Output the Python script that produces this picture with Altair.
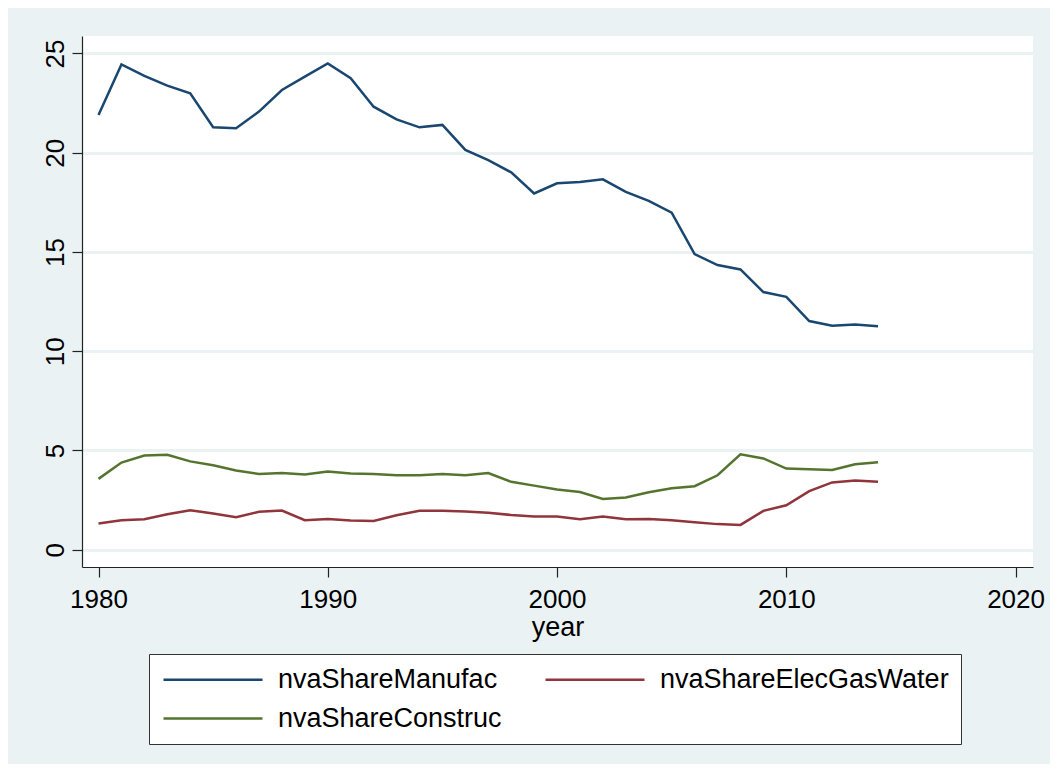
import altair as alt
import pandas as pd

years = list(range(1980, 2015))

manufac = [21.90, 24.45, 23.87, 23.38, 22.99, 21.28, 21.23, 22.07, 23.16, 23.83,
           24.50, 23.75, 22.32, 21.68, 21.28, 21.40, 20.14, 19.63, 19.01, 17.95,
           18.46, 18.52, 18.66, 18.03, 17.57, 16.98, 14.89, 14.34, 14.12, 12.98,
           12.74, 11.52, 11.28, 11.35, 11.26]

elec = [1.32, 1.49, 1.54, 1.79, 1.99, 1.82, 1.64, 1.91, 1.97, 1.49,
        1.55, 1.47, 1.45, 1.74, 1.96, 1.96, 1.92, 1.86, 1.75, 1.67,
        1.67, 1.54, 1.67, 1.54, 1.55, 1.49, 1.39, 1.29, 1.25, 1.96,
        2.24, 2.95, 3.39, 3.49, 3.42]

construc = [3.57, 4.39, 4.75, 4.78, 4.45, 4.26, 3.99, 3.82, 3.86, 3.79,
            3.94, 3.84, 3.81, 3.75, 3.75, 3.81, 3.75, 3.86, 3.42, 3.23,
            3.03, 2.91, 2.56, 2.63, 2.90, 3.10, 3.20, 3.75, 4.81, 4.60,
            4.09, 4.06, 4.02, 4.31, 4.41]

series_names = ["nvaShareManufac", "nvaShareElecGasWater", "nvaShareConstruc"]
series_colors = ["#1a476f", "#90353b", "#55752f"]
x_ticks = [1980, 1990, 2000, 2010, 2020]
y_ticks = [0, 5, 10, 15, 20, 25]

rows = []
for name, vals in zip(series_names, [manufac, elec, construc]):
    for yr, v in zip(years, vals):
        rows.append({"year": yr, "value": v, "series": name})
df = pd.DataFrame(rows)

FONT = "Liberation Sans"
BG = "#eaf2f3"

chart = alt.Chart(df).mark_line(strokeWidth=2.5).encode(
    x=alt.X(
        "year:Q",
        scale=alt.Scale(domain=[1979.28, 2020.76], nice=False, zero=False),
        axis=alt.Axis(values=x_ticks, format="d", title="year", grid=False,
                      tickSize=10, labelPadding=9, titlePadding=2,
                      labelFontSize=26, titleFontSize=27),
    ),
    y=alt.Y(
        "value:Q",
        scale=alt.Scale(domain=[-0.87, 25.88], nice=False, zero=False),
        axis=alt.Axis(values=y_ticks, title=None, grid=True, gridColor=BG,
                      gridWidth=3, tickSize=10, labelAngle=270,
                      labelAlign="center", labelBaseline="alphabetic",
                      labelPadding=9, labelFontSize=26),
    ),
    color=alt.Color(
        "series:N",
        scale=alt.Scale(domain=series_names, range=series_colors),
        legend=alt.Legend(
            title=None, orient="none", legendX=67, legendY=618, columns=2,
            direction="horizontal",
            symbolType="M0,0H10", symbolSize=392, symbolStrokeWidth=2.5,
            symbolOffset=-11, symbolFillColor="transparent",
            labelFontSize=27, labelOffset=101, columnPadding=38, rowPadding=11,
            padding=12, strokeColor="#333333", fillColor="white",
            labelColor="black", labelFont=FONT, labelLimit=500,
        ),
    ),
).properties(
    width=951,
    height=531,
    background=BG,
    padding={"left": 74, "top": 28, "right": 17, "bottom": 197},
    autosize=alt.AutoSizeParams(type="none"),
).configure(
    font=FONT,
).configure_view(
    fill="white", strokeWidth=0,
).configure_axis(
    domainColor="#222222", domainWidth=1.2, tickColor="#222222", tickWidth=1.2,
    labelColor="black", titleColor="black", titleFontWeight="normal",
    labelFont=FONT, titleFont=FONT,
)

chart.save("out.html", embed_options={"renderer": "svg", "actions": False})
